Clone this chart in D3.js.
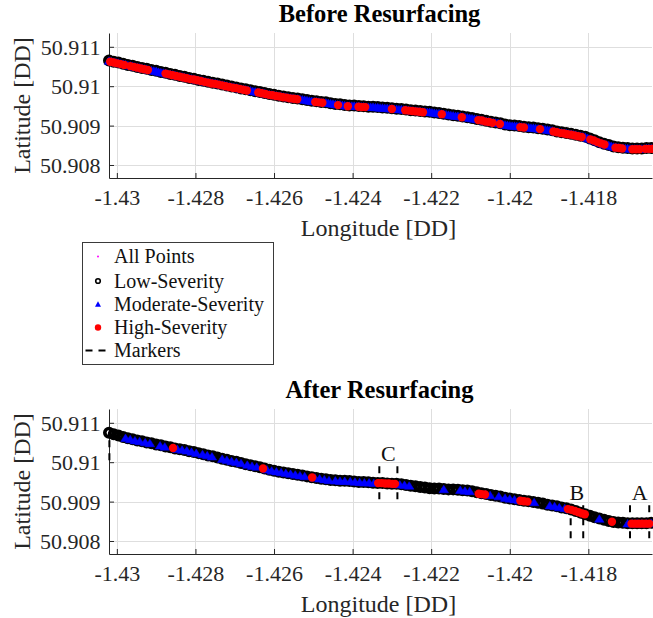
<!DOCTYPE html>
<html>
<head>
<meta charset="utf-8">
<script src="https://cdn.jsdelivr.net/npm/d3@7"></script>
<style>
  body { margin: 0; background: #fff; }
  svg { display: block; }
  svg text { font-family: "Liberation Serif", "Times New Roman", "DejaVu Serif", serif; }
</style>
</head>
<body>
<svg id="chart" width="653" height="618"></svg>
<script>
// ---- Axis ticks -------------------------------------------------------
const xTicks = [-1.43, -1.428, -1.426, -1.424, -1.422, -1.42, -1.418];
const xTickLabels = ["-1.43", "-1.428", "-1.426", "-1.424", "-1.422", "-1.42", "-1.418"];
const yTicks = [50.908, 50.909, 50.91, 50.911];
const yTickLabels = ["50.908", "50.909", "50.91", "50.911"];
const lonDomain = [-1.4302, -1.41638];
const latDomain = [50.90767, 50.91135];

// ---- Before resurfacing: [longitude, latitude] -------------------------
const beforeLow = [
[-1.43020,50.91065],[-1.43008,50.91062],[-1.42996,50.91060],[-1.42984,50.91057],[-1.42972,50.91054],[-1.42960,50.91052],
[-1.42948,50.91049],[-1.42936,50.91046],[-1.42924,50.91044],[-1.42912,50.91041],[-1.42900,50.91039],[-1.42888,50.91036],
[-1.42876,50.91034],[-1.42864,50.91031],[-1.42852,50.91029],[-1.42840,50.91026],[-1.42828,50.91024],[-1.42816,50.91021],
[-1.42804,50.91019],[-1.42792,50.91016],[-1.42780,50.91014],[-1.42768,50.91011],[-1.42756,50.91009],[-1.42744,50.91007],
[-1.42732,50.91004],[-1.42720,50.91002],[-1.42708,50.90999],[-1.42696,50.90997],[-1.42684,50.90994],[-1.42672,50.90992],
[-1.42660,50.90990],[-1.42648,50.90987],[-1.42636,50.90985],[-1.42624,50.90983],[-1.42612,50.90980],[-1.42600,50.90978],
[-1.42588,50.90976],[-1.42576,50.90974],[-1.42564,50.90972],[-1.42552,50.90970],[-1.42540,50.90969],[-1.42528,50.90967],
[-1.42516,50.90965],[-1.42504,50.90963],[-1.42492,50.90962],[-1.42480,50.90960],[-1.42468,50.90959],[-1.42456,50.90957],
[-1.42444,50.90955],[-1.42432,50.90954],[-1.42420,50.90952],[-1.42408,50.90951],[-1.42396,50.90951],[-1.42384,50.90950],
[-1.42372,50.90949],[-1.42360,50.90948],[-1.42348,50.90948],[-1.42336,50.90947],[-1.42324,50.90946],[-1.42312,50.90945],
[-1.42300,50.90944],[-1.42288,50.90943],[-1.42276,50.90942],[-1.42264,50.90941],[-1.42252,50.90939],[-1.42240,50.90938],
[-1.42228,50.90937],[-1.42216,50.90936],[-1.42204,50.90935],[-1.42192,50.90933],[-1.42180,50.90932],[-1.42168,50.90930],
[-1.42156,50.90928],[-1.42144,50.90926],[-1.42132,50.90925],[-1.42120,50.90923],[-1.42108,50.90921],[-1.42096,50.90919],
[-1.42084,50.90917],[-1.42072,50.90915],[-1.42060,50.90912],[-1.42048,50.90910],[-1.42036,50.90908],[-1.42024,50.90906],
[-1.42012,50.90903],[-1.42000,50.90901],[-1.41988,50.90900],[-1.41976,50.90899],[-1.41964,50.90897],[-1.41952,50.90896],
[-1.41940,50.90895],[-1.41928,50.90893],[-1.41916,50.90892],[-1.41904,50.90890],[-1.41892,50.90888],[-1.41880,50.90885],
[-1.41868,50.90883],[-1.41856,50.90881],[-1.41844,50.90879],[-1.41832,50.90877],[-1.41820,50.90874],[-1.41808,50.90872],
[-1.41796,50.90867],[-1.41784,50.90863],[-1.41772,50.90858],[-1.41760,50.90854],[-1.41748,50.90851],[-1.41736,50.90847],
[-1.41724,50.90845],[-1.41712,50.90844],[-1.41700,50.90843],[-1.41688,50.90842],[-1.41676,50.90842],[-1.41664,50.90842],
[-1.41652,50.90843],[-1.41640,50.90843]
];

const beforeModerate = [
[-1.43020,50.91065],[-1.43014,50.91064],[-1.43008,50.91062],[-1.43002,50.91061],[-1.42996,50.91060],[-1.42990,50.91058],
[-1.42984,50.91057],[-1.42978,50.91056],[-1.42972,50.91054],[-1.42966,50.91053],[-1.42960,50.91052],[-1.42954,50.91050],
[-1.42948,50.91049],[-1.42942,50.91048],[-1.42936,50.91046],[-1.42930,50.91045],[-1.42924,50.91044],[-1.42918,50.91042],
[-1.42912,50.91041],[-1.42906,50.91040],[-1.42900,50.91039],[-1.42894,50.91037],[-1.42888,50.91036],[-1.42882,50.91035],
[-1.42876,50.91034],[-1.42870,50.91032],[-1.42864,50.91031],[-1.42858,50.91030],[-1.42852,50.91029],[-1.42846,50.91027],
[-1.42840,50.91026],[-1.42834,50.91025],[-1.42828,50.91024],[-1.42822,50.91022],[-1.42816,50.91021],[-1.42810,50.91020],
[-1.42804,50.91019],[-1.42798,50.91017],[-1.42792,50.91016],[-1.42786,50.91015],[-1.42780,50.91014],[-1.42774,50.91012],
[-1.42768,50.91011],[-1.42762,50.91010],[-1.42756,50.91009],[-1.42750,50.91008],[-1.42744,50.91007],[-1.42738,50.91005],
[-1.42732,50.91004],[-1.42726,50.91003],[-1.42720,50.91002],[-1.42714,50.91000],[-1.42708,50.90999],[-1.42702,50.90998],
[-1.42696,50.90997],[-1.42690,50.90995],[-1.42684,50.90994],[-1.42678,50.90993],[-1.42672,50.90992],[-1.42666,50.90991],
[-1.42660,50.90990],[-1.42654,50.90988],[-1.42648,50.90987],[-1.42642,50.90986],[-1.42636,50.90985],[-1.42630,50.90984],
[-1.42624,50.90983],[-1.42618,50.90981],[-1.42612,50.90980],[-1.42606,50.90979],[-1.42600,50.90978],[-1.42594,50.90977],
[-1.42588,50.90976],[-1.42582,50.90975],[-1.42576,50.90974],[-1.42570,50.90973],[-1.42564,50.90972],[-1.42558,50.90971],
[-1.42552,50.90970],[-1.42546,50.90969],[-1.42540,50.90969],[-1.42534,50.90968],[-1.42528,50.90967],[-1.42522,50.90966],
[-1.42516,50.90965],[-1.42510,50.90964],[-1.42504,50.90963],[-1.42498,50.90962],[-1.42492,50.90962],[-1.42486,50.90961],
[-1.42480,50.90960],[-1.42474,50.90959],[-1.42468,50.90959],[-1.42462,50.90958],[-1.42456,50.90957],[-1.42450,50.90956],
[-1.42444,50.90955],[-1.42438,50.90954],[-1.42432,50.90954],[-1.42426,50.90953],[-1.42420,50.90952],[-1.42414,50.90951],
[-1.42408,50.90951],[-1.42402,50.90951],[-1.42396,50.90951],[-1.42390,50.90950],[-1.42384,50.90950],[-1.42378,50.90949],
[-1.42372,50.90949],[-1.42366,50.90948],[-1.42360,50.90948],[-1.42354,50.90948],[-1.42348,50.90948],[-1.42342,50.90947],
[-1.42336,50.90947],[-1.42330,50.90946],[-1.42324,50.90946],[-1.42318,50.90945],[-1.42312,50.90945],[-1.42306,50.90944],
[-1.42300,50.90944],[-1.42294,50.90943],[-1.42288,50.90943],[-1.42282,50.90942],[-1.42276,50.90942],[-1.42270,50.90941],
[-1.42264,50.90941],[-1.42258,50.90940],[-1.42252,50.90939],[-1.42246,50.90938],[-1.42240,50.90938],[-1.42234,50.90937],
[-1.42228,50.90937],[-1.42222,50.90936],[-1.42216,50.90936],[-1.42210,50.90935],[-1.42204,50.90935],[-1.42198,50.90934],
[-1.42192,50.90933],[-1.42186,50.90932],[-1.42180,50.90932],[-1.42174,50.90931],[-1.42168,50.90930],[-1.42162,50.90929],
[-1.42156,50.90928],[-1.42150,50.90927],[-1.42144,50.90926],[-1.42138,50.90925],[-1.42132,50.90925],[-1.42126,50.90924],
[-1.42120,50.90923],[-1.42114,50.90922],[-1.42108,50.90921],[-1.42102,50.90920],[-1.42096,50.90919],[-1.42090,50.90918],
[-1.42084,50.90917],[-1.42078,50.90916],[-1.42072,50.90915],[-1.42066,50.90913],[-1.42060,50.90912],[-1.42054,50.90911],
[-1.42048,50.90910],[-1.42042,50.90909],[-1.42036,50.90908],[-1.42030,50.90907],[-1.42024,50.90906],[-1.42018,50.90904],
[-1.42012,50.90903],[-1.42006,50.90902],[-1.42000,50.90901],[-1.41994,50.90900],[-1.41988,50.90900],[-1.41982,50.90899],
[-1.41976,50.90899],[-1.41970,50.90898],[-1.41964,50.90897],[-1.41958,50.90896],[-1.41952,50.90896],[-1.41946,50.90895],
[-1.41940,50.90895],[-1.41934,50.90894],[-1.41928,50.90893],[-1.41922,50.90892],[-1.41916,50.90892],[-1.41910,50.90891],
[-1.41904,50.90890],[-1.41898,50.90889],[-1.41892,50.90888],[-1.41886,50.90886],[-1.41880,50.90885],[-1.41874,50.90884],
[-1.41868,50.90883],[-1.41862,50.90882],[-1.41856,50.90881],[-1.41850,50.90880],[-1.41844,50.90879],[-1.41838,50.90878],
[-1.41832,50.90877],[-1.41826,50.90875],[-1.41820,50.90874],[-1.41814,50.90873],[-1.41808,50.90872],[-1.41802,50.90869],
[-1.41796,50.90867],[-1.41790,50.90865],[-1.41784,50.90863],[-1.41778,50.90860],[-1.41772,50.90858],[-1.41766,50.90856],
[-1.41760,50.90854],[-1.41754,50.90852],[-1.41748,50.90851],[-1.41742,50.90849],[-1.41736,50.90847],[-1.41730,50.90846],
[-1.41724,50.90845],[-1.41718,50.90844],[-1.41712,50.90844],[-1.41706,50.90843],[-1.41700,50.90843],[-1.41694,50.90842],
[-1.41688,50.90842],[-1.41682,50.90842],[-1.41676,50.90842],[-1.41670,50.90842],[-1.41664,50.90842],[-1.41658,50.90842],
[-1.41652,50.90843],[-1.41646,50.90843],[-1.41640,50.90843]
];

const beforeHigh = [
[-1.43017,50.91062],[-1.43008,50.91060],[-1.42999,50.91058],[-1.42990,50.91056],[-1.42981,50.91054],
[-1.42966,50.91051],[-1.42957,50.91049],[-1.42948,50.91047],[-1.42939,50.91045],[-1.42930,50.91043],[-1.42921,50.91041],
[-1.42876,50.91032],[-1.42867,50.91030],[-1.42858,50.91028],[-1.42849,50.91026],[-1.42840,50.91024],[-1.42831,50.91022],
[-1.42822,50.91020],[-1.42813,50.91018],[-1.42804,50.91017],[-1.42795,50.91015],[-1.42786,50.91013],[-1.42777,50.91011],
[-1.42768,50.91009],[-1.42759,50.91007],[-1.42750,50.91006],[-1.42741,50.91004],[-1.42732,50.91002],[-1.42723,50.91000],
[-1.42714,50.90998],[-1.42705,50.90996],[-1.42696,50.90995],[-1.42687,50.90993],[-1.42678,50.90991],[-1.42669,50.90989],
[-1.42640,50.90984],[-1.42631,50.90982],[-1.42622,50.90980],[-1.42613,50.90978],[-1.42604,50.90977],[-1.42595,50.90975],
[-1.42586,50.90974],[-1.42577,50.90972],[-1.42568,50.90971],[-1.42559,50.90969],[-1.42550,50.90968],[-1.42541,50.90967],
[-1.42495,50.90960],[-1.42486,50.90959],[-1.42477,50.90958],
[-1.42437,50.90952],[-1.42412,50.90949],
[-1.42385,50.90948],[-1.42376,50.90947],[-1.42368,50.90947],
[-1.42300,50.90942],
[-1.42266,50.90939],[-1.42257,50.90938],[-1.42248,50.90937],[-1.42239,50.90936],[-1.42230,50.90935],[-1.42221,50.90934],
[-1.42173,50.90929],[-1.42122,50.90921],
[-1.42080,50.90914],[-1.42071,50.90913],[-1.42062,50.90910],[-1.42053,50.90909],[-1.42044,50.90907],
[-1.42025,50.90904],
[-1.41973,50.90896],[-1.41964,50.90895],
[-1.41923,50.90891],
[-1.41889,50.90885],[-1.41880,50.90883],[-1.41871,50.90881],[-1.41862,50.90880],[-1.41853,50.90878],[-1.41844,50.90877],
[-1.41835,50.90875],[-1.41826,50.90873],[-1.41817,50.90871],
[-1.41795,50.90865],[-1.41786,50.90862],[-1.41777,50.90858],[-1.41768,50.90855],[-1.41759,50.90852],
[-1.41731,50.90844],[-1.41722,50.90843],[-1.41714,50.90842],
[-1.41688,50.90840],[-1.41679,50.90840],[-1.41670,50.90840],
[-1.41655,50.90841],[-1.41646,50.90841],[-1.41638,50.90841]
];

// ---- After resurfacing: [longitude, latitude] --------------------------
const afterLow = [
[-1.43020,50.91075],[-1.43008,50.91071],[-1.42996,50.91068],[-1.42984,50.91064],[-1.42972,50.91061],[-1.42960,50.91058],
[-1.42948,50.91055],[-1.42936,50.91053],[-1.42924,50.91050],[-1.42912,50.91048],[-1.42900,50.91045],[-1.42888,50.91043],
[-1.42876,50.91040],[-1.42864,50.91038],[-1.42852,50.91035],[-1.42840,50.91033],[-1.42828,50.91031],[-1.42816,50.91028],
[-1.42804,50.91026],[-1.42792,50.91023],[-1.42780,50.91020],[-1.42768,50.91017],[-1.42756,50.91015],[-1.42744,50.91012],
[-1.42732,50.91009],[-1.42720,50.91006],[-1.42708,50.91003],[-1.42696,50.91001],[-1.42684,50.90998],[-1.42672,50.90995],
[-1.42660,50.90992],[-1.42648,50.90990],[-1.42636,50.90987],[-1.42624,50.90984],[-1.42612,50.90981],[-1.42600,50.90978],
[-1.42588,50.90976],[-1.42576,50.90974],[-1.42564,50.90972],[-1.42552,50.90970],[-1.42540,50.90968],[-1.42528,50.90966],
[-1.42516,50.90964],[-1.42504,50.90962],[-1.42492,50.90960],[-1.42480,50.90958],[-1.42468,50.90957],[-1.42456,50.90955],
[-1.42444,50.90954],[-1.42432,50.90953],[-1.42420,50.90953],[-1.42408,50.90952],[-1.42396,50.90951],[-1.42384,50.90950],
[-1.42372,50.90950],[-1.42360,50.90949],[-1.42348,50.90948],[-1.42336,50.90947],[-1.42324,50.90947],[-1.42312,50.90946],
[-1.42300,50.90945],[-1.42288,50.90945],[-1.42276,50.90944],[-1.42264,50.90942],[-1.42252,50.90940],[-1.42240,50.90939],
[-1.42228,50.90937],[-1.42216,50.90936],[-1.42204,50.90934],[-1.42192,50.90933],[-1.42180,50.90933],[-1.42168,50.90932],
[-1.42156,50.90931],[-1.42144,50.90931],[-1.42132,50.90930],[-1.42120,50.90929],[-1.42108,50.90928],[-1.42096,50.90926],
[-1.42084,50.90924],[-1.42072,50.90921],[-1.42060,50.90919],[-1.42048,50.90917],[-1.42036,50.90915],[-1.42024,50.90913],
[-1.42012,50.90910],[-1.42000,50.90908],[-1.41988,50.90906],[-1.41976,50.90904],[-1.41964,50.90902],[-1.41952,50.90901],
[-1.41940,50.90899],[-1.41928,50.90897],[-1.41916,50.90895],[-1.41904,50.90892],[-1.41892,50.90890],[-1.41880,50.90888],
[-1.41868,50.90885],[-1.41856,50.90883],[-1.41844,50.90880],[-1.41832,50.90876],[-1.41820,50.90872],[-1.41808,50.90868],
[-1.41796,50.90864],[-1.41784,50.90860],[-1.41772,50.90857],[-1.41760,50.90854],[-1.41748,50.90851],[-1.41736,50.90848],
[-1.41724,50.90847],[-1.41712,50.90846],[-1.41700,50.90845],[-1.41688,50.90845],[-1.41676,50.90845],[-1.41664,50.90845],
[-1.41652,50.90845],[-1.41640,50.90846]
];

const afterModerate = [
[-1.42978,50.91062],[-1.42966,50.91059],[-1.42954,50.91056],[-1.42942,50.91054],
[-1.42928,50.91051],[-1.42916,50.91049],
[-1.42890,50.91043],[-1.42878,50.91040],
[-1.42846,50.91034],[-1.42834,50.91032],[-1.42822,50.91030],[-1.42810,50.91027],[-1.42798,50.91024],
[-1.42782,50.91021],[-1.42770,50.91018],[-1.42758,50.91015],
[-1.42732,50.91009],[-1.42720,50.91006],[-1.42708,50.91003],[-1.42696,50.91001],[-1.42684,50.90998],
[-1.42668,50.90994],[-1.42656,50.90991],[-1.42644,50.90989],
[-1.42618,50.90982],[-1.42606,50.90979],[-1.42594,50.90977],[-1.42582,50.90975],[-1.42570,50.90973],[-1.42558,50.90971],
[-1.42546,50.90969],[-1.42534,50.90967],[-1.42522,50.90965],
[-1.42496,50.90961],[-1.42484,50.90959],[-1.42472,50.90957],[-1.42460,50.90955],
[-1.42444,50.90954],[-1.42432,50.90953],[-1.42420,50.90953],
[-1.42406,50.90952],[-1.42394,50.90951],[-1.42382,50.90950],[-1.42370,50.90949],[-1.42358,50.90949],[-1.42346,50.90948],
[-1.42292,50.90945],[-1.42280,50.90944],[-1.42268,50.90943],[-1.42256,50.90941],
[-1.42168,50.90932],
[-1.42126,50.90930],[-1.42114,50.90928],[-1.42102,50.90927],
[-1.42062,50.90919],[-1.42050,50.90917],
[-1.42028,50.90914],
[-1.42012,50.90910],[-1.42000,50.90908],[-1.41988,50.90906],[-1.41976,50.90904],
[-1.41938,50.90899],
[-1.41898,50.90891],[-1.41886,50.90889],[-1.41874,50.90886],
[-1.41860,50.90884],[-1.41848,50.90881],
[-1.41772,50.90857],
[-1.41700,50.90845],[-1.41688,50.90845],[-1.41676,50.90845],[-1.41664,50.90845],[-1.41652,50.90845],[-1.41640,50.90846]
];

const afterHigh = [
[-1.42857,50.91036],[-1.42628,50.90984],[-1.42503,50.90961],
[-1.42335,50.90947],[-1.42326,50.90947],[-1.42317,50.90946],[-1.42308,50.90946],[-1.42299,50.90945],[-1.42292,50.90945],
[-1.42079,50.90920],[-1.42072,50.90919],[-1.42063,50.90918],
[-1.41973,50.90902],[-1.41964,50.90901],[-1.41955,50.90900],
[-1.41852,50.90881],[-1.41843,50.90879],[-1.41834,50.90876],[-1.41825,50.90873],[-1.41816,50.90870],[-1.41809,50.90868],
[-1.41740,50.90849],
[-1.41690,50.90844],[-1.41681,50.90844],[-1.41672,50.90844],[-1.41663,50.90844],[-1.41654,50.90844],[-1.41645,50.90844]
];

// Survey section markers (after resurfacing): dashed pairs with a label
const markerLabels = ["C", "B", "A", ""];
const markerLons = [[-1.42332, -1.42286], [-1.41845, -1.41813], [-1.41694, -1.41645], [-1.43019]];
const markerLats = [[50.90990, 50.90902], [50.90891, 50.90803], [50.90891, 50.90803], [50.91056, 50.91000]];

const legendLabels = ["All Points", "Low-Severity", "Moderate-Severity", "High-Severity", "Markers"];

// ---- Drawing ----------------------------------------------------------
const INK = "#262626";
const svg = d3.select("#chart");
const plotLeft = 109, plotRight = 652, plotHeight = 145;

function trianglePath(w, h) {
  return `M0,${-h / 2}L${w / 2},${h / 2}L${-w / 2},${h / 2}Z`;
}

function drawPanel(top, titleText, low, moderate, high, withMarkers) {
  const g = svg.append("g");
  const bottom = top + plotHeight;
  const x = d3.scaleLinear().domain(lonDomain).range([plotLeft, plotRight]);
  const y = d3.scaleLinear().domain(latDomain).range([bottom, top]);

  // grid
  const grid = g.append("g").attr("stroke", "#dedede").attr("stroke-width", 1);
  grid.selectAll("line.gx").data(xTicks).join("line")
    .attr("x1", d => Math.round(x(d)) + 0.5).attr("x2", d => Math.round(x(d)) + 0.5)
    .attr("y1", top).attr("y2", bottom);
  grid.selectAll("line.gy").data(yTicks).join("line")
    .attr("y1", d => Math.round(y(d)) + 0.5).attr("y2", d => Math.round(y(d)) + 0.5)
    .attr("x1", plotLeft).attr("x2", plotRight);

  // axes (ticks point inward)
  const xAxis = d3.axisBottom(x).tickValues(xTicks)
    .tickFormat((d, i) => xTickLabels[i]).tickSizeInner(-5).tickSizeOuter(0);
  const gx = g.append("g").attr("transform", `translate(0,${bottom})`).call(xAxis);
  const yAxis = d3.axisLeft(y).tickValues(yTicks)
    .tickFormat((d, i) => yTickLabels[i]).tickSizeInner(-5).tickSizeOuter(0);
  const gy = g.append("g").attr("transform", `translate(${plotLeft},0)`).call(yAxis);
  [gx, gy].forEach(a => {
    a.attr("font-size", null).attr("font-family", null);
    a.select(".domain").attr("stroke", INK);
    a.selectAll(".tick line").attr("stroke", INK);
    a.selectAll(".tick text").attr("fill", INK).style("font-size", "22px");
  });
  gx.selectAll(".tick text").attr("y", 27).attr("dy", null);
  gy.selectAll(".tick text").attr("x", -8.5).attr("dy", "0.34em");

  // titles and axis labels
  g.append("text").attr("x", 379.5).attr("y", top - 11).attr("text-anchor", "middle")
    .style("font-weight", "bold").style("font-size", "24.5px")
    .attr("fill", "#000").text(titleText);
  g.append("text").attr("x", 378.5).attr("y", bottom + 57.5).attr("text-anchor", "middle")
    .style("font-size", "24px").attr("fill", INK).text("Longitude [DD]");
  g.append("text").attr("transform", `translate(29.5,${top + plotHeight / 2}) rotate(-90)`)
    .attr("text-anchor", "middle").style("font-size", "24px")
    .attr("fill", INK).text("Latitude [DD]");

  // section markers
  if (withMarkers) {
    const mk = g.append("g");
    markerLabels.forEach((lab, i) => {
      markerLons[i].forEach(lon => {
        mk.append("line")
          .attr("x1", x(lon)).attr("x2", x(lon))
          .attr("y1", y(markerLats[i][0])).attr("y2", y(markerLats[i][1]))
          .attr("stroke", "#000").attr("stroke-width", 2).attr("stroke-dasharray", "7,6");
      });
      if (lab) {
        const cx = d3.mean(markerLons[i], d => x(d));
        mk.append("text").attr("x", cx).attr("y", y(markerLats[i][0]) - 5)
          .attr("text-anchor", "middle").style("font-size", "22px")
          .attr("fill", "#111").text(lab);
      }
    });
  }

  // scatter layers
  const all = low.concat(moderate, high);
  g.append("g").selectAll("circle").data(all).join("circle")
    .attr("cx", d => x(d[0])).attr("cy", d => y(d[1])).attr("r", 1).attr("fill", "#ff00ff");
  g.append("g").selectAll("circle").data(low).join("circle")
    .attr("cx", d => x(d[0])).attr("cy", d => y(d[1])).attr("r", 4.2)
    .attr("fill", "none").attr("stroke", "#000").attr("stroke-width", 3.6);
  g.append("g").selectAll("path").data(moderate).join("path")
    .attr("d", trianglePath(9.5, 7.5))
    .attr("transform", d => `translate(${x(d[0])},${y(d[1])})`)
    .attr("fill", "#0000ff").attr("stroke", "#0000ff").attr("stroke-width", 0.5);
  g.append("g").selectAll("circle").data(high).join("circle")
    .attr("cx", d => x(d[0])).attr("cy", d => y(d[1])).attr("r", 4.2).attr("fill", "#ff0000");
}

drawPanel(33, "Before Resurfacing", beforeLow, beforeModerate, beforeHigh, false);
drawPanel(409, "After Resurfacing", afterLow, afterModerate, afterHigh, true);

// legend
const lg = svg.append("g");
lg.append("rect").attr("x", 82.5).attr("y", 242.5).attr("width", 191).attr("height", 122)
  .attr("fill", "#fff").attr("stroke", "#3a3a3a").attr("stroke-width", 1);
const rowY = [256.5, 281, 304, 327.5, 350.5];
const symX = 98;
lg.append("circle").attr("cx", symX).attr("cy", rowY[0]).attr("r", 1).attr("fill", "#ff00ff");
lg.append("circle").attr("cx", symX).attr("cy", rowY[1]).attr("r", 2.3)
  .attr("fill", "none").attr("stroke", "#000").attr("stroke-width", 1.6);
lg.append("path").attr("d", trianglePath(6, 5.5)).attr("transform", `translate(${symX},${rowY[2]})`)
  .attr("fill", "#0000ff");
lg.append("circle").attr("cx", symX).attr("cy", rowY[3]).attr("r", 3.2).attr("fill", "#ff0000");
lg.append("line").attr("x1", 85.5).attr("x2", 106.5).attr("y1", rowY[4]).attr("y2", rowY[4])
  .attr("stroke", "#000").attr("stroke-width", 2).attr("stroke-dasharray", "7,6");
lg.selectAll("text").data(legendLabels).join("text")
  .attr("x", 114).attr("y", (d, i) => rowY[i] + 6.6)
  .style("font-size", "20px").attr("fill", "#111").text(d => d);
</script>
</body>
</html>
